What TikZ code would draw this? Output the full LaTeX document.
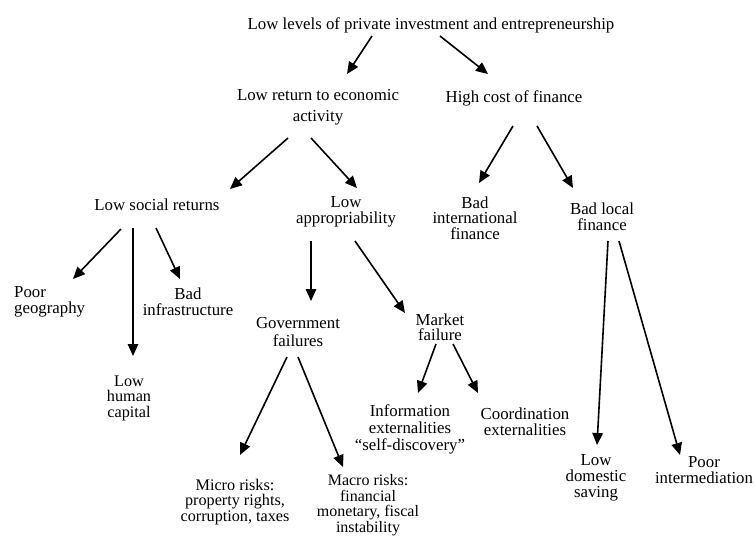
\documentclass[tikz,border=0pt]{standalone}
\usepackage{fontspec}
\setmainfont{Liberation Serif}
\usetikzlibrary{arrows.meta,calc}
\tikzset{
  lbl/.style={inner sep=0pt, align=center, font=\fontsize{16.8}{16}\selectfont},
  tight/.style={font=\fontsize{16.2}{15.5}\selectfont},
  mid/.style={font=\fontsize{16.8}{15.5}\selectfont},
  loose/.style={font=\fontsize{16.8}{21}\selectfont},
  arr/.style={line width=1.6pt, -{Triangle[length=12pt,width=10.5pt]}}
}
\begin{document}
\begin{tikzpicture}[x=1pt,y=-1pt]
\useasboundingbox (0,0) rectangle (755,539);
% nodes
\node[lbl] (top) at (431,25) {Low levels of private investment and entrepreneurship};
\node[lbl,loose] (lr) at (318,107.5) {Low return to economic\\activity};
\node[lbl] (hc) at (514,98) {High cost of finance};
\node[lbl] (lsr) at (157,205) {Low social returns};
\node[lbl,mid] (lap) at (346,212) {Low\\appropriability};
\node[lbl,mid] (bif) at (475,218) {Bad\\international\\finance};
\node[lbl] (blf) at (602,217) {Bad local\\finance};
\node[lbl,align=left,anchor=west] (pg) at (14,302) {Poor\\geography};
\node[lbl] (binf) at (188,302) {Bad\\infrastructure};
\node[lbl,tight] (lhc) at (129,398) {Low\\human\\capital};
\node[lbl,font=\fontsize{16.8}{17.5}\selectfont] (gf) at (298,332) {Government\\failures};
\node[lbl,mid] (mf) at (440,327) {Market\\failure};
\node[lbl,font=\fontsize{16.8}{17}\selectfont] (info) at (410,429) {Information\\externalities\\``self-discovery''};
\node[lbl] (coord) at (525,422) {Coordination\\externalities};
\node[lbl] (lds) at (596,478) {Low\\domestic\\saving};
\node[lbl] (pi) at (704,470) {Poor\\intermediation};
\node[lbl,tight] (micro) at (235,502) {Micro risks:\\property rights,\\corruption, taxes};
\node[lbl,font=\fontsize{16}{15.5}\selectfont] (macro) at (368,505) {Macro risks:\\financial\\monetary, fiscal\\instability};
% connectors
\draw[arr] ($(top)+(-59,11)$) -- ($(lr)+(29,-33.5)$);
\draw[arr] ($(top)+(9,11)$) -- ($(hc)+(-26,-24)$);
\draw[arr] ($(lr)+(-30,30.5)$) -- ($(lsr)+(73,-16)$);
\draw[arr] ($(lr)+(-7,30.5)$) -- ($(lap)+(11,-24)$);
\draw[arr] ($(hc)+(-1,28)$) -- ($(bif)+(4,-35)$);
\draw[arr] ($(hc)+(23,28)$) -- ($(blf)+(-29,-29)$);
\draw[arr] ($(lsr)+(-36,24)$) -- ($(pg.west)+(59,-23)$);
\draw[arr] ($(lsr)+(-24,23)$) -- ($(lhc)+(4,-42)$);
\draw[arr] ($(lsr)+(-1,23)$) -- ($(binf)+(-8,-23)$);
\draw[arr] ($(lap)+(-35,29)$) -- ($(gf)+(13,-31)$);
\draw[arr] ($(lap)+(9,29)$) -- ($(mf)+(-35,-14)$);
\draw[arr] ($(gf)+(-11,25)$) -- ($(micro)+(5,-47)$);
\draw[arr] ($(gf)+(0,25)$) -- ($(macro)+(-25,-38)$);
\draw[arr] ($(mf)+(-4,17)$) -- ($(info)+(8,-36)$);
\draw[arr] ($(mf)+(13,17)$) -- ($(coord)+(-47,-29)$);
\draw[arr] ($(blf)+(6,24)$) -- ($(lds)+(1,-33)$);
\draw[arr] ($(blf)+(17,24)$) -- ($(pi)+(-24,-15)$);
\end{tikzpicture}
\end{document}
